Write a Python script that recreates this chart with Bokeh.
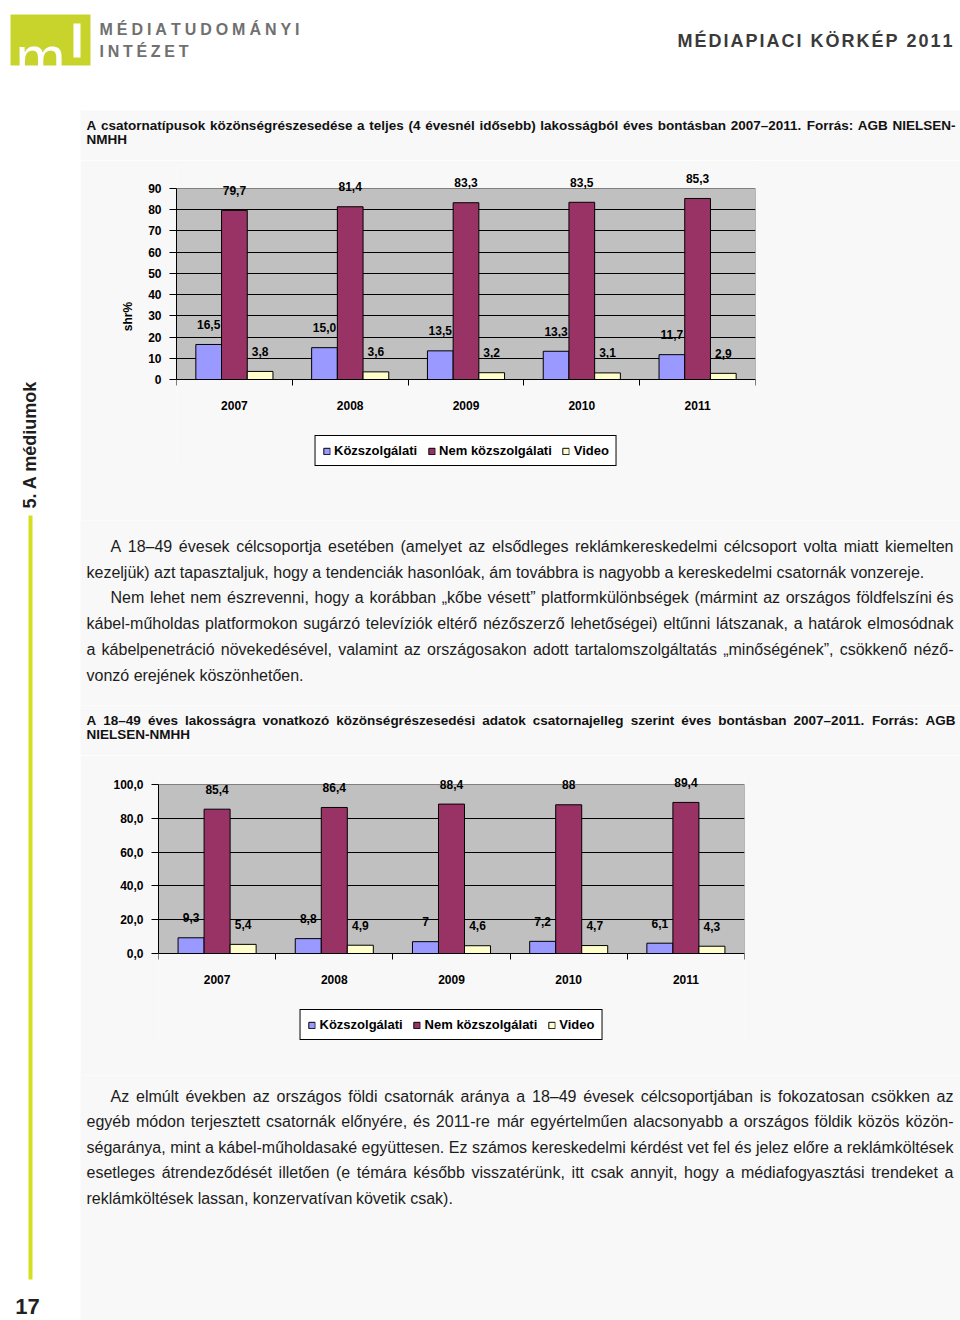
import math
import unicodedata
from bokeh.plotting import figure
from bokeh.models import Range1d, FixedTicker, LabelSet, ColumnDataSource, Legend, LegendItem
from bokeh.layouts import column, row
from bokeh.embed import file_html
from bokeh.resources import INLINE
from bokeh.core.properties import value

# ---------------- data ----------------
years = ["2007", "2008", "2009", "2010", "2011"]
series_names = ["Közszolgálati", "Nem közszolgálati", "Video"]
series_colors = ["#9999FF", "#993366", "#FFFFCC"]

c1_kozszolgalati = [16.5, 15.0, 13.5, 13.3, 11.7]
c1_nem_kozszolgalati = [79.7, 81.4, 83.3, 83.5, 85.3]
c1_video = [3.8, 3.6, 3.2, 3.1, 2.9]
c1_y_ticks = [0, 10, 20, 30, 40, 50, 60, 70, 80, 90]
c1_y_tick_labels = ["0", "10", "20", "30", "40", "50", "60", "70", "80", "90"]

c2_kozszolgalati = [9.3, 8.8, 7, 7.2, 6.1]
c2_nem_kozszolgalati = [85.4, 86.4, 88.4, 88, 89.4]
c2_video = [5.4, 4.9, 4.6, 4.7, 4.3]
c2_y_ticks = [0, 20, 40, 60, 80, 100]
c2_y_tick_labels = ["0,0", "20,0", "40,0", "60,0", "80,0", "100,0"]

# ---------------- texts ----------------
TITLE1 = [
    (86, 125, "A csatornatípusok közönségrészesedése a teljes (4 évesnél idősebb) lakosságból éves bontásban 2007–2011.  Forrás: AGB NIELSEN-", True),
    (86, 139, "NMHH", False),
]
TITLE2 = [
    (86, 720, "A 18–49 éves lakosságra vonatkozó közönségrészesedési adatok csatornajelleg szerint éves bontásban 2007–2011.  Forrás: AGB", True),
    (86, 734, "NIELSEN-NMHH", False),
]
PARA1 = [
    (110, 546, "A 18–49 évesek célcsoportja esetében (amelyet az elsődleges reklámkereskedelmi célcsoport volta miatt kiemelten", True),
    (86, 572, "kezeljük) azt tapasztaljuk, hogy a tendenciák hasonlóak, ám továbbra is nagyobb a kereskedelmi csatornák vonzereje.", False),
    (110, 597, "Nem lehet nem észrevenni, hogy a korábban „kőbe vésett” platformkülönbségek (mármint az országos földfelszíni és", True),
    (86, 623, "kábel-műholdas platformokon sugárzó televíziók eltérő nézőszerző lehetőségei) eltűnni látszanak, a határok elmosódnak", True),
    (86, 649, "a kábelpenetráció növekedésével, valamint az országosakon adott tartalomszolgáltatás „minőségének”, csökkenő néző-", True),
    (86, 675, "vonzó erejének köszönhetően.", False),
]
PARA2 = [
    (110, 1096, "Az elmúlt években az országos földi csatornák aránya a 18–49 évesek célcsoportjában is fokozatosan csökken az", True),
    (86, 1121, "egyéb módon terjesztett csatornák előnyére, és 2011-re már egyértelműen alacsonyabb a országos földik közös közön-", True),
    (86, 1147, "ségaránya, mint a kábel-műholdasaké együttesen. Ez számos kereskedelmi kérdést vet fel és jelez előre a reklámköltések", True),
    (86, 1172, "esetleges átrendeződését illetően (e témára később visszatérünk, itt csak annyit, hogy a médiafogyasztási trendeket a", True),
    (86, 1198, "reklámköltések lassan, konzervatívan követik csak).", False),
]

FONT = "Liberation Sans"
BG = "#f8f8f8"
TXT = "#1c1c1c"

# Arial / Liberation Sans advance widths (1/1000 em)
LOW = "abcdefghijklmnopqrstuvwxyz"
UP = "ABCDEFGHIJKLMNOPQRSTUVWXYZ"
REG_W = dict(zip(LOW, [556, 556, 500, 556, 556, 278, 556, 556, 222, 222, 500, 222, 833, 556, 556, 556, 556, 333, 500, 278, 556, 500, 722, 500, 500, 500]))
REG_W.update(dict(zip(UP, [667, 667, 722, 722, 667, 611, 778, 722, 278, 500, 667, 556, 833, 722, 778, 667, 778, 722, 667, 611, 722, 667, 944, 667, 667, 611])))
REG_W.update({d: 556 for d in "0123456789"})
REG_W.update({" ": 278, ",": 278, ".": 278, "(": 333, ")": 333, "-": 333, "–": 556, "„": 333, "”": 333, ":": 278, "%": 889})
BOLD_W = dict(zip(LOW, [556, 611, 556, 611, 556, 333, 611, 611, 278, 278, 556, 278, 889, 611, 611, 611, 611, 389, 556, 333, 611, 556, 778, 556, 556, 500]))
BOLD_W.update(dict(zip(UP, [722, 722, 722, 722, 667, 611, 778, 722, 278, 556, 722, 611, 833, 722, 778, 667, 778, 722, 667, 611, 722, 667, 944, 667, 667, 611])))
BOLD_W.update({d: 556 for d in "0123456789"})
BOLD_W.update({" ": 278, ",": 278, ".": 278, "(": 333, ")": 333, "-": 333, "–": 556, "„": 500, "”": 500, ":": 333, "%": 889})


def cw(ch, bold):
    t = BOLD_W if bold else REG_W
    if ch in t:
        return t[ch]
    base = unicodedata.normalize("NFD", ch)[0]
    return t.get(base, 556)


def tw(s, size, bold):
    return sum(cw(c, bold) for c in s) * size / 1000.0


def canvas(w, h, ox, oy, bg):
    return figure(width=w, height=h, x_range=Range1d(ox, ox + w), y_range=Range1d(oy + h, oy),
                  x_axis_type=None, y_axis_type=None, toolbar_location=None, output_backend="svg",
                  min_border=0, outline_line_color=None, background_fill_color=bg, border_fill_color=bg,
                  frame_align=False)


def add_words(p, lines, size, bold, x_right, color):
    xs, ys, ts = [], [], []
    for x0, y, txt, just in lines:
        words = txt.split()
        widths = [tw(w, size, bold) for w in words]
        if just and len(words) > 1:
            gap = (x_right - x0 - sum(widths)) / (len(words) - 1)
        else:
            gap = tw(" ", size, bold)
        x = x0
        for w, wd in zip(words, widths):
            xs.append(x)
            ys.append(y)
            ts.append(w)
            x += wd + gap
    p.text(x="x", y="y", text="t", source=ColumnDataSource(dict(x=xs, y=ys, t=ts)),
           text_font=value(FONT), text_font_size=f"{size}px", text_font_style="bold" if bold else "normal",
           text_baseline="middle", text_align="left", text_color=color)


def add_spaced(p, s, x0, x1, y, size, bold, color):
    widths = [cw(c, bold) * size / 1000.0 for c in s]
    ls = (x1 - x0 - sum(widths)) / (len(s) - 1)
    xs = []
    x = x0
    for w in widths:
        xs.append(x)
        x += w + ls
    p.text(x=xs, y=[y] * len(s), text=list(s), text_font=value(FONT), text_font_size=f"{size}px",
           text_font_style="bold" if bold else "normal", text_baseline="middle", text_align="left",
           text_color=color)


# ---------------- header ----------------
header = canvas(960, 110, 0, 0, "white")
header.quad(left=[10], right=[90], top=[14], bottom=[65], fill_color="#c8d42c", line_color=None)
header.text(x=[15], y=[57], text=["m"], text_font=value(FONT), text_font_size="60px", text_color="white",
            text_baseline="alphabetic", text_align="left")
header.quad(left=[73], right=[80], top=[23], bottom=[57], fill_color="white", line_color=None)
add_spaced(header, "MÉDIATUDOMÁNYI", 99, 299, 29, 16, True, "#707070")
add_spaced(header, "INTÉZET", 99, 188, 51, 16, True, "#707070")
add_spaced(header, "MÉDIAPIACI KÖRKÉP 2011", 677, 952, 40, 18, True, "#3a3a3a")

# ---------------- sidebar ----------------
side = canvas(80, 1210, 0, 110, "white")
side.text(x=[29], y=[444], text=["5. A médiumok"], angle=math.pi / 2, text_font=value(FONT),
          text_font_size="18px", text_font_style="bold", text_color="#1e1e1e",
          text_align="center", text_baseline="middle")
side.segment(x0=[30], y0=[515], x1=[30], y1=[1279], line_color="#d4df1f", line_width=4)
side.text(x=[27], y=[1306], text=["17"], text_font=value(FONT), text_font_size="22px", text_font_style="bold",
          text_color="#222222", text_align="center", text_baseline="middle")


# ---------------- charts ----------------
def bar_chart(h, oy, frame, top_ext, bottom_ext, ymax, ticks, tick_labels, vals, label_fmt, ylabel):
    fl, ft, fr, fb = frame
    ppu = (fb - ft) / ymax
    y_end = (fb - top_ext) / ppu
    y_start = -(bottom_ext - fb) / ppu
    p = figure(width=880, height=h, x_range=Range1d(0, len(years)), y_range=Range1d(y_start, y_end),
               toolbar_location=None, output_backend="svg", frame_align=False,
               min_border_left=fl - 80, min_border_right=960 - fr,
               min_border_top=top_ext - oy, min_border_bottom=oy + h - bottom_ext,
               background_fill_color=BG, border_fill_color=BG, outline_line_color=None)
    # plot area (grey) limited to the axis extent
    p.quad(left=[0], right=[len(years)], bottom=[ticks[0]], top=[ticks[-1]], fill_color="#c0c0c0",
           line_color="#808080", line_width=1, level="image")
    p.xgrid.visible = False
    p.ygrid.ticker = FixedTicker(ticks=ticks[1:-1])
    p.ygrid.grid_line_color = "black"
    p.ygrid.grid_line_width = 1

    yax = p.yaxis[0]
    yax.bounds = (ticks[0], ticks[-1])
    yax.ticker = FixedTicker(ticks=ticks)
    yax.major_label_overrides = {t: l for t, l in zip(ticks, tick_labels)}
    yax.axis_line_color = "black"
    yax.major_tick_line_color = "black"
    yax.major_tick_out = 7
    yax.major_tick_in = 0
    yax.minor_tick_line_color = None
    yax.major_label_standoff = 8
    yax.major_label_text_font = FONT
    yax.major_label_text_font_size = "12px"
    yax.major_label_text_font_style = "bold"
    yax.major_label_text_color = "black"
    if ylabel:
        yax.axis_label = ylabel
        yax.axis_label_text_font = FONT
        yax.axis_label_text_font_size = "12px"
        yax.axis_label_text_font_style = "bold"
        yax.axis_label_standoff = 10
        yax.axis_label_text_color = "black"

    centers = [i + 0.5 for i in range(len(years))]
    xax = p.xaxis[0]
    xax.fixed_location = 0
    xax.ticker = FixedTicker(ticks=centers, minor_ticks=list(range(len(years) + 1)))
    xax.major_label_overrides = dict(zip(centers, years))
    xax.axis_line_color = "black"
    xax.major_tick_line_color = None
    xax.major_tick_out = 0
    xax.major_tick_in = 0
    xax.minor_tick_line_color = "black"
    xax.minor_tick_out = 6
    xax.minor_tick_in = 0
    xax.major_label_standoff = 15
    xax.major_label_text_font = FONT
    xax.major_label_text_font_size = "12px"
    xax.major_label_text_font_style = "bold"
    xax.major_label_text_color = "black"

    bw = 0.222
    offsets = [-bw, 0.0, bw]
    items = []
    for name, color, off, v in zip(series_names, series_colors, offsets, vals):
        src = ColumnDataSource(dict(x=[c + off for c in centers], top=v, lab=[label_fmt(a) for a in v]))
        r = p.vbar(x="x", top="top", bottom=0, width=bw, source=src, fill_color=color,
                   line_color="black", line_width=1)
        items.append(LegendItem(label=name, renderers=[r]))
        p.add_layout(LabelSet(x="x", y="top", text="lab", source=src, y_offset=20, text_align="center",
                              text_baseline="middle", text_font=value(FONT), text_font_size="12px",
                              text_font_style="bold", text_color="black"))

    leg = Legend(items=items, location="bottom_center", orientation="horizontal",
                 border_line_color="black", border_line_width=1, border_line_alpha=1,
                 background_fill_color="white", background_fill_alpha=1.0,
                 label_text_font=FONT, label_text_font_style="bold", label_text_font_size="13px",
                 label_text_color="black",
                 glyph_width=8, glyph_height=8, label_standoff=4, spacing=10, padding=7, margin=1,
                 label_height=15)
    p.add_layout(leg)
    return p


fmt1 = lambda v: f"{v:.1f}".replace(".", ",")
fmt2 = lambda v: f"{v:g}".replace(".", ",")

c1 = bar_chart(360, 160, (176, 188, 755, 379), 165, 467, 90, c1_y_ticks, c1_y_tick_labels,
               [c1_kozszolgalati, c1_nem_kozszolgalati, c1_video], fmt1, "shr%")
c2 = bar_chart(320, 755, (158, 784, 744, 953), 770, 1041, 100, c2_y_ticks, c2_y_tick_labels,
               [c2_kozszolgalati, c2_nem_kozszolgalati, c2_video], fmt2, None)

# ---------------- text blocks ----------------
t1 = canvas(880, 50, 80, 110, BG)
add_words(t1, TITLE1, 13.5, True, 955, "#111111")
p1 = canvas(880, 185, 80, 520, BG)
add_words(p1, PARA1, 16, False, 953, TXT)
t2 = canvas(880, 50, 80, 705, BG)
add_words(t2, TITLE2, 13.5, True, 955, "#111111")
p2 = canvas(880, 245, 80, 1075, BG)
add_words(p2, PARA2, 16, False, 953, TXT)

main = column(t1, c1, p1, t2, c2, p2, spacing=0)
body = row(side, main, spacing=0)
page = column(header, body, spacing=0)

open("out.html", "w").write(file_html(page, INLINE, title="Médiapiaci körkép 2011"))
